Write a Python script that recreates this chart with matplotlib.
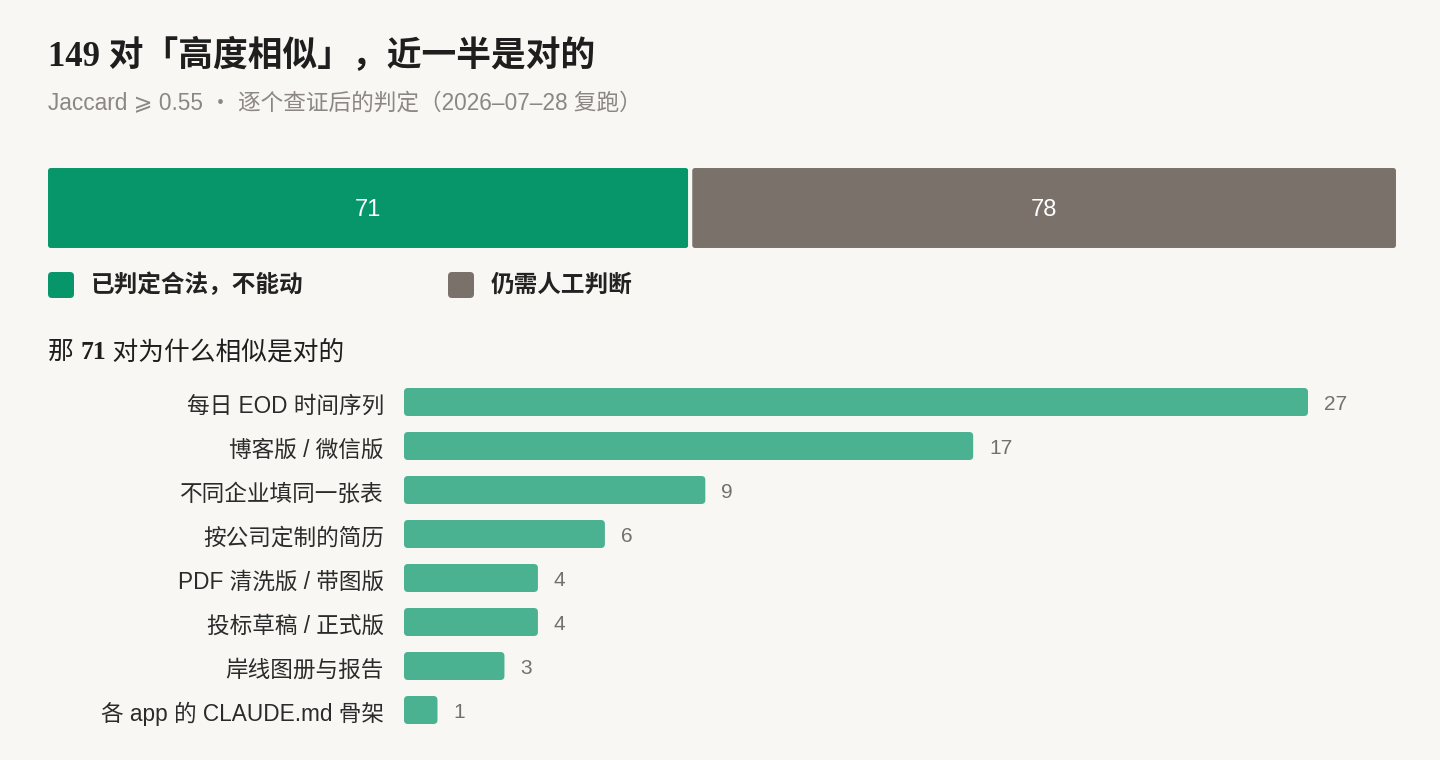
import matplotlib
matplotlib.use("Agg")
from matplotlib import pyplot as plt
from matplotlib.patches import FancyBboxPatch
import matplotlib.transforms as mtransforms
import numpy as np

plt.rcParams['font.family'] = ['Noto Sans CJK SC', 'DejaVu Sans']
SANS = ['Liberation Sans', 'Noto Sans CJK SC', 'DejaVu Sans']
SERIF = ['Liberation Serif', 'Noto Sans CJK SC']

# ---------------- data ----------------
split_labels = ["已判定合法，不能动", "仍需人工判断"]
split_values = [71, 78]
split_colors = ["#069669", "#7a716b"]

cat_labels = ["每日 EOD 时间序列", "博客版 / 微信版", "不同企业填同一张表", "按公司定制的简历",
              "PDF 清洗版 / 带图版", "投标草稿 / 正式版", "岸线图册与报告", "各 app 的 CLAUDE.md 骨架"]
cat_values = [27, 17, 9, 6, 4, 4, 3, 1]

title = "149 对「高度相似」，近一半是对的"
subtitle = "Jaccard ⩾ 0.55 ・ 逐个查证后的判定（2026–07–28 复跑）"
section_parts = [("那 ", "normal"), ("71", "bold"), (" 对为什么相似是对的", "normal")]

W, H = 1440, 760
bg = "#f8f7f3"
fig = plt.figure(figsize=(14.4, 7.6), dpi=100)
fig.patch.set_facecolor(bg)


def px(x, y, w, h):
    # pixel box (top-left origin) -> figure fraction
    return [x / W, 1 - (y + h) / H, w / W, h / H]


def round_bars(ax, bars, r_px, lw=0):
    p0, p1 = ax.transData.transform([[0, 0], [1, 1]])
    ppx_x = abs(p1[0] - p0[0])
    ppx_y = abs(p1[1] - p0[1])
    for b in bars:
        x, y = b.get_x(), b.get_y()
        w, h = b.get_width(), b.get_height()
        fb = FancyBboxPatch((x, y), w, h,
                            boxstyle="round,pad=0,rounding_size=%f" % (r_px / ppx_x),
                            mutation_aspect=ppx_x / ppx_y,
                            facecolor=b.get_facecolor(), edgecolor=bg, linewidth=lw)
        b.set_visible(False)
        ax.add_patch(fb)


# overlay axes for text, pixel coordinates
ax0 = fig.add_axes([0, 0, 1, 1])
ax0.set_xlim(0, W)
ax0.set_ylim(H, 0)
ax0.axis("off")
renderer = fig.canvas.get_renderer()

ax0.text(48, 56, title, fontsize=25, fontweight="bold", color="#1e1e1e",
         family=SERIF, va="center", ha="left")
ax0.text(48, 104, subtitle, fontsize=16.3, color="#8c8782",
         family=SANS, va="center", ha="left")

# ---------------- stacked split bar ----------------
ax1 = fig.add_axes(px(46, 166, 1352, 84))
ax1.set_facecolor("none")
lefts = np.concatenate([[0], np.cumsum(split_values)[:-1]])
ax1.set_xlim(0, sum(split_values))
ax1.set_ylim(-0.5, 0.5)
bars1 = ax1.barh(0, split_values, left=lefts, height=1.0, color=split_colors)
round_bars(ax1, bars1, 5, lw=2.9)
for l, v in zip(lefts, split_values):
    ax1.annotate(str(v), (l + v / 2, 0), xytext=(0, -1.5), textcoords="offset points",
                 color="white", fontsize=17, family=SANS, ha="center", va="center")
ax1.axis("off")

# legend
leg_x = [48, 448]
for x, lab, c in zip(leg_x, split_labels, split_colors):
    ax0.add_patch(FancyBboxPatch((x, 272), 26, 26, boxstyle="round,pad=0,rounding_size=4",
                                 facecolor=c, edgecolor="none"))
    ax0.text(x + 43, 285, lab, fontsize=17, fontweight="bold", color="#222222",
             va="center", ha="left")

# section heading, digits in bold serif
cx = 48
for txt, wt in section_parts:
    t = ax0.text(cx, 359, txt, fontsize=18.5, fontweight=wt, color="#1e1e1e",
                 family=SERIF, va="baseline", ha="left")
    bb = t.get_window_extent(renderer)
    cx = ax0.transData.inverted().transform((bb.x1, 0))[0]

# ---------------- breakdown bars ----------------
ax2 = fig.add_axes(px(404, 380, 1000, 352))
ax2.set_facecolor("none")
ax2.set_xlim(0, 1000 / (904 / 27))
ax2.set_ylim(len(cat_values) - 0.5, -0.5)
ypos = np.arange(len(cat_values))
bars2 = ax2.barh(ypos, cat_values, height=28 / 44, color="#4ab291")
round_bars(ax2, bars2, 4)
for y, v in zip(ypos, cat_values):
    ax2.annotate(str(v), (v, y), xytext=(11.5, -2), textcoords="offset points",
                 fontsize=15, family=SANS, color="#757070", va="center", ha="left")
ax2.set_yticks(ypos)
ax2.set_yticklabels(cat_labels, fontsize=16.3, color="#2b2b2b", family=SANS)
ax2.tick_params(axis="y", length=0, pad=14.5)
shift = mtransforms.ScaledTranslation(0, -1.5 / 100, fig.dpi_scale_trans)
for lab in ax2.get_yticklabels():
    lab.set_transform(lab.get_transform() + shift)
ax2.set_xticks([])
for s in ax2.spines.values():
    s.set_visible(False)

plt.savefig("out.png", dpi=100, facecolor=bg)
